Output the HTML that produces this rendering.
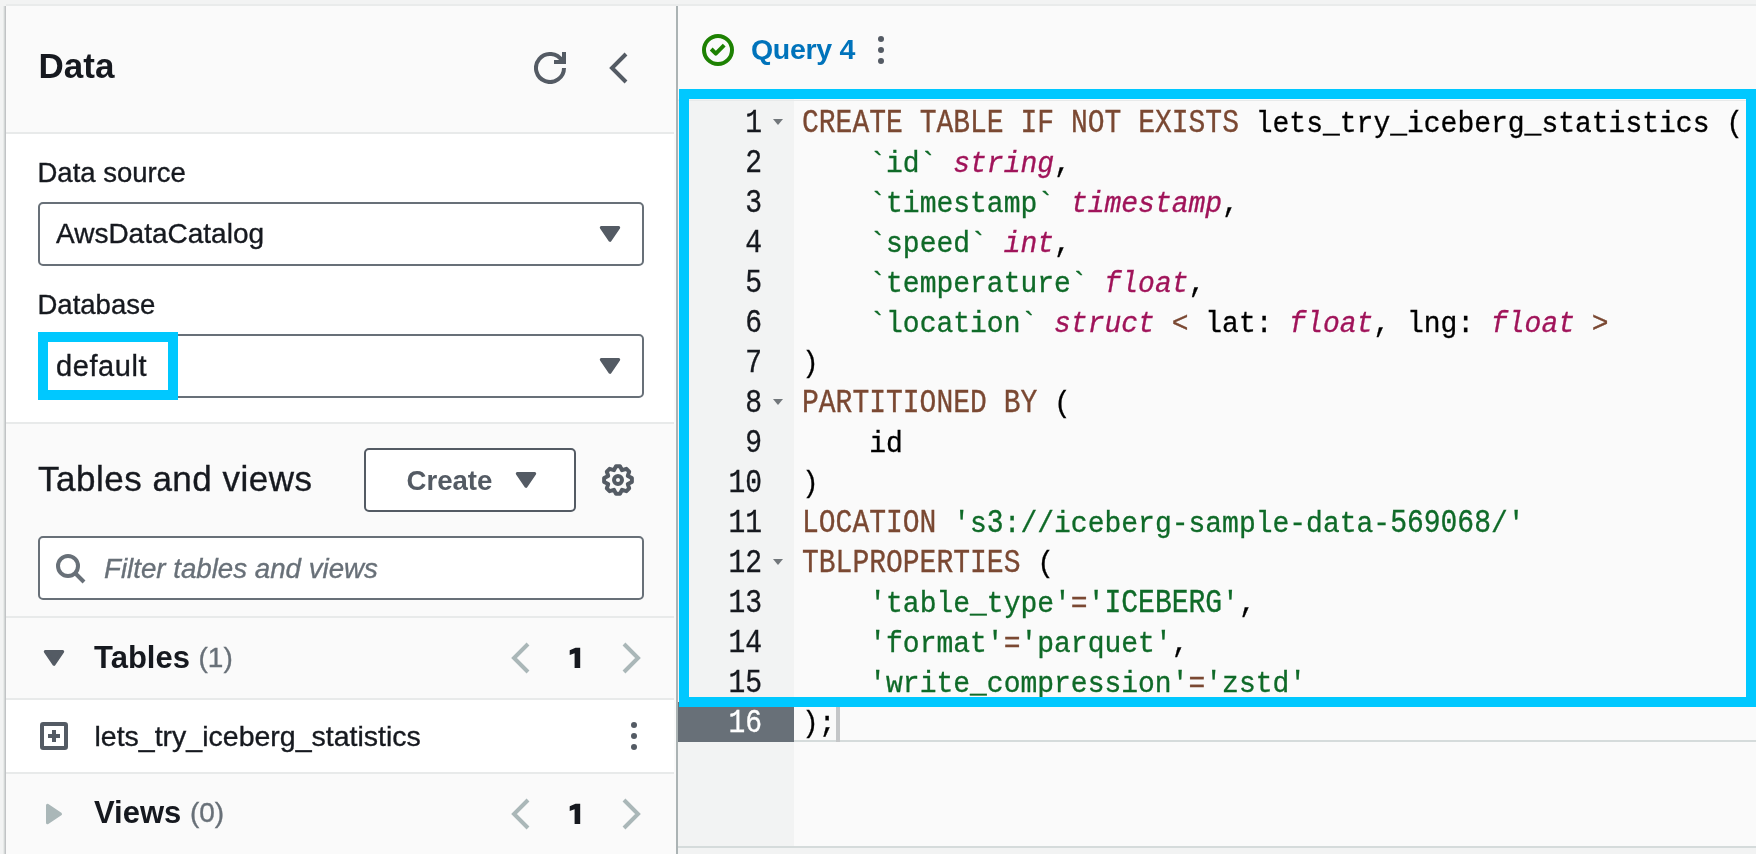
<!DOCTYPE html>
<html><head><meta charset="utf-8">
<style>
*{box-sizing:border-box;margin:0;padding:0}
html,body{width:1756px;height:854px;overflow:hidden}
body{background:#f2f3f3;position:relative;font-family:"Liberation Sans",sans-serif;color:#16191f}
.a{position:absolute}
.t{position:absolute;white-space:nowrap;line-height:1;-webkit-text-stroke:0.35px currentColor}
#lp{left:6px;top:6px;width:670px;height:848px;background:#fafafa;overflow:hidden}
#shadow{left:0;top:6px;width:6px;height:848px;background:linear-gradient(to right,#f2f3f3 0,#f2f3f3 3px,#e8eae9 3px,#e8eae9 4px,#d3d7d7 4px,#d3d7d7 5px,#c1c3c5 5px,#c1c3c5 6px)}
#topsh{left:6px;top:4px;width:1750px;height:2px;background:#e9ebeb}
.hl{position:absolute;left:6px;width:668px;height:2px;background:#e8eaea}
.sel{position:absolute;left:38px;width:606px;height:64px;border:2px solid #687078;border-radius:5px;background:#fff}
.tri{position:absolute;width:0;height:0}
#div{left:676px;top:6px;width:2px;height:848px;background:#abb3b4}
#rp{left:678px;top:6px;width:1078px;height:848px;background:#fafafa}
#gut{left:678px;top:99px;width:116px;height:747px;background:#f2f3f3}
#code{left:794px;top:99px;width:962px;height:747px;background:#fafafa}
.ln{position:absolute;left:678px;width:84px;text-align:right;font-family:"Liberation Mono",monospace;font-size:28px;line-height:40px;height:40px;color:#16191f;-webkit-text-stroke:0.3px currentColor;transform-origin:0 27.45px;transform:translateY(4.2px) scaleY(1.2)}
.cl{position:absolute;left:802px;font-family:"Liberation Mono",monospace;font-size:28px;line-height:40px;height:40px;white-space:pre;color:#000;-webkit-text-stroke:0.3px currentColor;transform-origin:0 27.45px;transform:translateY(4.2px) scaleY(1.05)}
.u{display:inline-block;transform-origin:0 27.45px;transform:scaleY(1.143)}
.k{color:#7a4832}
.s{color:#0f6a28}
.y{color:#a0145a;font-style:italic}
.cy{position:absolute;border:10px solid #00c8ff}
</style></head><body><div style="position:absolute;left:0;top:0;width:1756px;height:854px;will-change:transform">
<div class="a" id="topsh"></div>
<div class="a" id="shadow"></div>
<div class="a" id="lp">
</div>
<!-- header -->
<div class="t" style="left:38.5px;top:48px;font-size:35px;font-weight:bold;-webkit-text-stroke:0">Data</div>
<svg class="a" style="left:534px;top:52px" width="32" height="32" viewBox="0 0 16 16"><path d="M15 8A7 7 0 1 1 14.06 4.5" fill="none" stroke="#545b64" stroke-width="2"/><path d="M10 5h5V0" fill="none" stroke="#545b64" stroke-width="2"/></svg>
<svg class="a" style="left:604.3px;top:52px" width="32" height="32" viewBox="0 0 16 16"><path d="M11 1L4 8l7 7" fill="none" stroke="#545b64" stroke-width="2"/></svg>
<div class="hl" style="top:132px"></div>
<div class="a" style="left:6px;top:134px;width:668px;height:288px;background:#fff"></div>
<div class="t" style="left:37.5px;top:159px;font-size:27.5px">Data source</div>
<div class="sel" style="top:202px"></div>
<div class="t" style="left:56px;top:220.3px;font-size:28px">AwsDataCatalog</div>
<svg class="a" style="left:598px;top:224px" width="24" height="20" viewBox="0 0 24 20"><path d="M3.3 3.6h17.4L12 16.3z" fill="#545b64" stroke="#545b64" stroke-width="3" stroke-linejoin="round"/></svg>
<div class="t" style="left:37.5px;top:291px;font-size:27.5px">Database</div>
<div class="sel" style="top:334px"></div>
<div class="t" style="left:56px;top:352px;font-size:29px;letter-spacing:0.6px">default</div>
<svg class="a" style="left:598px;top:356px" width="24" height="20" viewBox="0 0 24 20"><path d="M3.3 3.6h17.4L12 16.3z" fill="#545b64" stroke="#545b64" stroke-width="3" stroke-linejoin="round"/></svg>
<div class="hl" style="top:422px"></div>
<!-- tables and views -->
<div class="t" style="left:38px;top:461px;font-size:35px;letter-spacing:0.5px">Tables and views</div>
<div class="a" style="left:364px;top:448px;width:212px;height:64px;border:2px solid #545b64;border-radius:5px;background:#fff"></div>
<div class="t" style="left:406.5px;top:466.5px;font-size:27.6px;font-weight:bold;color:#545b64;-webkit-text-stroke:0">Create</div>
<svg class="a" style="left:514px;top:470px" width="24" height="20" viewBox="0 0 24 20"><path d="M3.3 3.6h17.4L12 16.3z" fill="#545b64" stroke="#545b64" stroke-width="3" stroke-linejoin="round"/></svg>
<svg class="a" style="left:602px;top:464px" width="32" height="32" viewBox="0 0 16 16"><circle cx="8" cy="8" r="2" fill="none" stroke="#545b64" stroke-width="2"/><path d="M5.97 3.10 L7.03 1.07 L8.97 1.07 L10.03 3.10 L12.21 2.41 L13.59 3.79 L12.90 5.97 L14.93 7.03 L14.93 8.97 L12.90 10.03 L13.59 12.21 L12.21 13.59 L10.03 12.90 L8.97 14.93 L7.03 14.93 L5.97 12.90 L3.79 13.59 L2.41 12.21 L3.10 10.03 L1.07 8.97 L1.07 7.03 L3.10 5.97 L2.41 3.79 L3.79 2.41z" fill="none" stroke="#545b64" stroke-width="2" stroke-linejoin="round"/></svg>
<div class="sel" style="top:536px"></div>
<svg class="a" style="left:54px;top:552px" width="32" height="32" viewBox="0 0 16 16"><circle cx="7" cy="7" r="5" fill="none" stroke="#687078" stroke-width="2"/><path d="M10.5 10.5L15 15" stroke="#687078" stroke-width="2"/></svg>
<div class="t" style="left:104px;top:555px;font-size:27.7px;font-style:italic;color:#687078">Filter tables and views</div>
<div class="hl" style="top:616px"></div>
<!-- tables row -->
<svg class="a" style="left:42px;top:648px" width="24" height="20" viewBox="0 0 24 20"><path d="M3.3 3.6h17.4L12 16.3z" fill="#545b64" stroke="#545b64" stroke-width="3" stroke-linejoin="round"/></svg>
<div class="t" style="left:94px;top:642px;font-size:31px;font-weight:bold;-webkit-text-stroke:0">Tables <span style="font-weight:normal;color:#687078;font-size:28px;position:relative;top:-1.5px;-webkit-text-stroke:0.35px currentColor">(1)</span></div>
<svg class="a" style="left:506.4px;top:642px" width="32" height="32" viewBox="0 0 16 16"><path d="M11 1L4 8l7 7" fill="none" stroke="#aab7b8" stroke-width="2"/></svg>
<svg class="a" style="left:569px;top:647px" width="12" height="22" viewBox="0 0 12 22"><path d="M6.5 0.7L0.7 3.2V8L5.6 6.2V21.1H11.2V0.7z" fill="#16191f"/></svg>
<svg class="a" style="left:614.4px;top:642px" width="32" height="32" viewBox="0 0 16 16"><path d="M5 1l7 7-7 7" fill="none" stroke="#aab7b8" stroke-width="2"/></svg>
<div class="hl" style="top:698px"></div>
<div class="a" style="left:6px;top:700px;width:668px;height:72px;background:#fff"></div>
<svg class="a" style="left:38px;top:720px" width="32" height="32" viewBox="0 0 16 16"><rect x="2" y="2" width="12" height="12" rx="0.6" fill="none" stroke="#545b64" stroke-width="2"/><path d="M8 5v6M5 8h6" stroke="#545b64" stroke-width="2"/></svg>
<div class="t" style="left:94.5px;top:721.5px;font-size:28.5px">lets_try_iceberg_statistics</div>
<svg class="a" style="left:618px;top:720px" width="32" height="32" viewBox="0 0 16 16"><circle cx="8" cy="2.5" r="1.5" fill="#545b64"/><circle cx="8" cy="8" r="1.5" fill="#545b64"/><circle cx="8" cy="13.5" r="1.5" fill="#545b64"/></svg>
<div class="hl" style="top:772px"></div>
<!-- views row -->
<svg class="a" style="left:44px;top:802px" width="20" height="24" viewBox="0 0 20 24"><path d="M3.5 3.3v17.4L16.5 12z" fill="#aab7b8" stroke="#aab7b8" stroke-width="3" stroke-linejoin="round"/></svg>
<div class="t" style="left:94px;top:797px;font-size:31px;font-weight:bold;-webkit-text-stroke:0">Views <span style="font-weight:normal;color:#687078;font-size:28px;position:relative;top:-1.5px;-webkit-text-stroke:0.35px currentColor">(0)</span></div>
<svg class="a" style="left:506.4px;top:798px" width="32" height="32" viewBox="0 0 16 16"><path d="M11 1L4 8l7 7" fill="none" stroke="#aab7b8" stroke-width="2"/></svg>
<svg class="a" style="left:569px;top:803px" width="12" height="22" viewBox="0 0 12 22"><path d="M6.5 0.7L0.7 3.2V8L5.6 6.2V21.1H11.2V0.7z" fill="#16191f"/></svg>
<svg class="a" style="left:614.4px;top:798px" width="32" height="32" viewBox="0 0 16 16"><path d="M5 1l7 7-7 7" fill="none" stroke="#aab7b8" stroke-width="2"/></svg>

<!-- right -->
<div class="a" id="div"></div>
<div class="a" id="rp"></div>
<svg class="a" style="left:702px;top:34px" width="32" height="32" viewBox="0 0 16 16"><circle cx="8" cy="8" r="7" fill="none" stroke="#1d8102" stroke-width="2"/><path d="M4.6 7.5L6.9 9.8L11.1 5.6" fill="none" stroke="#1d8102" stroke-width="2" stroke-linejoin="round"/></svg>
<div class="t" style="left:751px;top:35.3px;font-size:28.5px;letter-spacing:-0.3px;font-weight:bold;color:#0073bb;-webkit-text-stroke:0">Query 4</div>
<svg class="a" style="left:865px;top:34px" width="32" height="32" viewBox="0 0 16 16"><circle cx="8" cy="2.5" r="1.5" fill="#545b64"/><circle cx="8" cy="8" r="1.5" fill="#545b64"/><circle cx="8" cy="13.5" r="1.5" fill="#545b64"/></svg>
<div class="a" id="gut"></div>
<div class="a" id="code"></div>
<div class="a" style="left:678px;top:100px;width:1078px;height:1px;background:#e8eaea"></div>
<div class="a" style="left:678px;top:846px;width:1078px;height:2px;background:#d5dbdb"></div>
<div class="a" style="left:678px;top:848px;width:1078px;height:6px;background:#f2f3f3"></div>
<!-- active line -->
<div class="a" style="left:678px;top:702px;width:116px;height:40px;background:#687078"></div>
<div class="a" style="left:794px;top:740px;width:962px;height:2px;background:#d5dbdb"></div>
<div class="a" style="left:836px;top:701px;width:4px;height:41px;background:#c4c6c8"></div>
<div id="lines">
<div class="ln" style="top:101px">1</div>
<div class="ln" style="top:141px">2</div>
<div class="ln" style="top:181px">3</div>
<div class="ln" style="top:221px">4</div>
<div class="ln" style="top:261px">5</div>
<div class="ln" style="top:301px">6</div>
<div class="ln" style="top:341px">7</div>
<div class="ln" style="top:381px">8</div>
<div class="ln" style="top:421px">9</div>
<div class="ln" style="top:461px">10</div>
<div class="ln" style="top:501px">11</div>
<div class="ln" style="top:541px">12</div>
<div class="ln" style="top:581px">13</div>
<div class="ln" style="top:621px">14</div>
<div class="ln" style="top:661px">15</div>
<div class="ln" style="top:701px;color:#fff">16</div>
</div>
<div class="cl" style="top:101px"><span class="k"><span class="u">CREATE</span> <span class="u">TABLE</span> <span class="u">IF</span> <span class="u">NOT</span> <span class="u">EXISTS</span></span> lets_try_iceberg_statistics (</div>
<div class="cl" style="top:141px">    <span class="s">`id`</span> <span class="y">string</span>,</div>
<div class="cl" style="top:181px">    <span class="s">`timestamp`</span> <span class="y">timestamp</span>,</div>
<div class="cl" style="top:221px">    <span class="s">`speed`</span> <span class="y">int</span>,</div>
<div class="cl" style="top:261px">    <span class="s">`temperature`</span> <span class="y">float</span>,</div>
<div class="cl" style="top:301px">    <span class="s">`location`</span> <span class="y">struct</span> <span class="k">&lt;</span> lat: <span class="y">float</span>, lng: <span class="y">float</span> <span class="k">&gt;</span></div>
<div class="cl" style="top:341px">)</div>
<div class="cl" style="top:381px"><span class="k"><span class="u">PARTITIONED</span> <span class="u">BY</span></span> (</div>
<div class="cl" style="top:421px">    id</div>
<div class="cl" style="top:461px">)</div>
<div class="cl" style="top:501px"><span class="k"><span class="u">LOCATION</span></span> <span class="s">'s<span class="u">3</span>://iceberg-sample-data&#45;<span class="u">569068</span>/'</span></div>
<div class="cl" style="top:541px"><span class="k"><span class="u">TBLPROPERTIES</span></span> (</div>
<div class="cl" style="top:581px">    <span class="s">'table_type'</span><span class="k">=</span><span class="s">'<span class="u">ICEBERG</span>'</span>,</div>
<div class="cl" style="top:621px">    <span class="s">'format'</span><span class="k">=</span><span class="s">'parquet'</span>,</div>
<div class="cl" style="top:661px">    <span class="s">'write_compression'</span><span class="k">=</span><span class="s">'zstd'</span></div>
<div class="cl" style="top:701px">);</div>
<!-- fold arrows -->
<svg class="a" style="left:772px;top:117px" width="12" height="10" viewBox="0 0 12 10"><path d="M1 2h10L6 8z" fill="#72777b"/></svg>
<svg class="a" style="left:772px;top:397px" width="12" height="10" viewBox="0 0 12 10"><path d="M1 2h10L6 8z" fill="#72777b"/></svg>
<svg class="a" style="left:772px;top:557px" width="12" height="10" viewBox="0 0 12 10"><path d="M1 2h10L6 8z" fill="#72777b"/></svg>
<!-- cyan highlights -->
<div class="cy" style="left:679px;top:89px;width:1077px;height:618px;border-right-width:10px"></div>
<div class="cy" style="left:38px;top:332px;width:140px;height:68px"></div>
</div></body></html>
